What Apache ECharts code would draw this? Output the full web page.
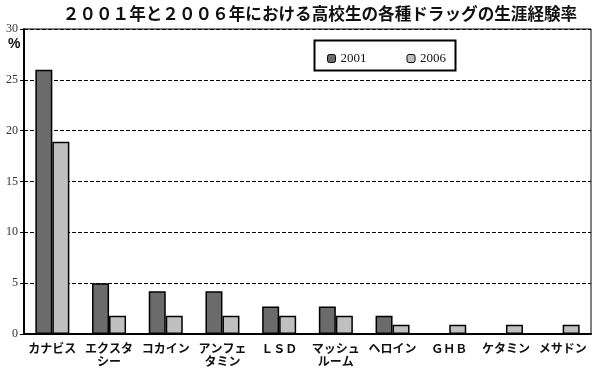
<!DOCTYPE html>
<html><head><meta charset="utf-8">
<script src="https://cdn.jsdelivr.net/npm/echarts@6/dist/echarts.min.js"></script>
<style>html,body{margin:0;padding:0;background:#fff}#c{width:600px;height:372px}</style>
</head><body><div id="c"></div>
<script>
const titleText = '２００１年と２００６年における高校生の各種ドラッグの生涯経験率';
const categories = ['カナビス', 'エクスタ\nシー', 'コカイン', 'アンフェ\nタミン', 'ＬＳＤ', 'マッシュ\nルーム', 'ヘロイン', 'ＧＨＢ', 'ケタミン', 'メサドン'];
const seriesNames = ['2001', '2006'];
const values2001 = [26, 5, 4.2, 4.2, 2.7, 2.7, 1.8, null, null, null];
const values2006 = [18.9, 1.8, 1.8, 1.8, 1.8, 1.8, 0.9, 0.9, 0.9, 0.9];
const yTicks = [0, 5, 10, 15, 20, 25, 30];

const chart = echarts.init(document.getElementById('c'));
chart.setOption({
  animation: false,
  backgroundColor: '#fff',
  graphic: [
    { type: 'text', x: 320, y: 5, style: { text: titleText, align: 'center', verticalAlign: 'top', fontFamily: 'Noto Sans CJK JP', fontSize: 16.6, fontWeight: 'bold', fill: '#111' } },
    { type: 'rect', left: 312, top: 38, shape: { width: 141, height: 30 }, style: { fill: null, stroke: '#000', lineWidth: 2 }, z: 10 },
    { type: 'text', left: 8, top: 37, style: { text: '%', fontFamily: 'Liberation Sans', fontSize: 14, fontWeight: 'bold', fill: '#111' } }
  ],
  legend: {
    data: seriesNames, left: 322, top: 47, itemWidth: 8, itemHeight: 8, itemGap: 40,
    textStyle: { fontFamily: 'Liberation Serif', fontSize: 13, color: '#111' },
    itemStyle: { borderColor: '#000', borderWidth: 1 }
  },
  grid: { left: 24, right: 9, top: 29, bottom: 38, show: true, borderColor: '#000', borderWidth: 1 },
  xAxis: {
    type: 'category', data: categories,
    axisLine: { lineStyle: { color: '#000', width: 2 } },
    axisTick: { show: false },
    axisLabel: { interval: 0, margin: 8, fontFamily: 'Noto Sans CJK JP', fontSize: 12, fontWeight: 'bold', color: '#111', lineHeight: 13 }
  },
  yAxis: {
    type: 'value', min: yTicks[0], max: yTicks[yTicks.length - 1], interval: 5,
    axisLine: { show: true, lineStyle: { color: '#000', width: 2 } },
    axisTick: { show: true, length: 4, lineStyle: { color: '#000' } },
    axisLabel: { fontFamily: 'Liberation Serif', fontSize: 12, color: '#333', margin: 6 },
    splitLine: { lineStyle: { color: '#000', type: [4, 2], width: 1 } }
  },
  series: [
    { name: seriesNames[0], type: 'bar', data: values2001, barWidth: 17, barGap: '0%',
      itemStyle: { color: '#6b6b6b', borderColor: '#000', borderWidth: 1.5 } },
    { name: seriesNames[1], type: 'bar', data: values2006, barWidth: 17,
      itemStyle: { color: '#c0c0c0', borderColor: '#000', borderWidth: 1.5 } }
  ]
});
</script></body></html>
